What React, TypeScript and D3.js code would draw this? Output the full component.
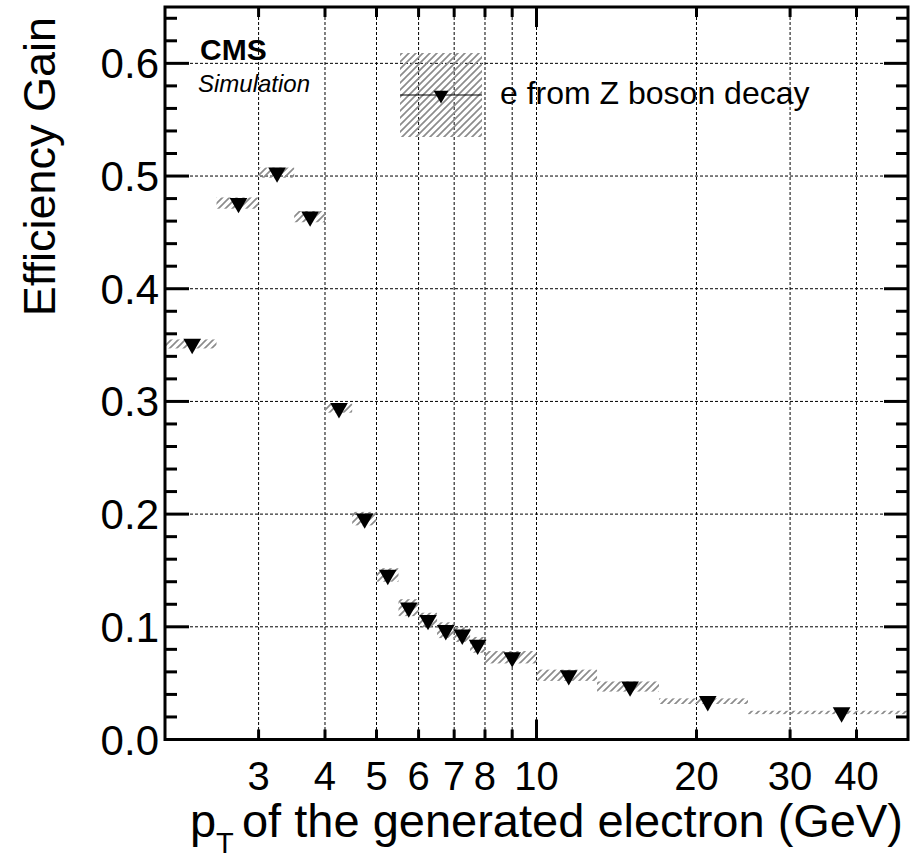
import React from "react";
import * as d3 from "d3";

const binLow = [2, 2.5, 3, 3.5, 4, 4.5, 5, 5.5, 6, 6.5, 7, 7.5, 8, 10, 13, 17, 25];
const binHigh = [2.5, 3, 3.5, 4, 4.5, 5, 5.5, 6, 6.5, 7, 7.5, 8, 10, 13, 17, 25, 50];
const ptCenter = [2.25, 2.75, 3.25, 3.75, 4.25, 4.75, 5.25, 5.75, 6.25, 6.75, 7.25, 7.75, 9, 11.5, 15, 21, 37.5];
const gainValues = [0.351, 0.476, 0.503, 0.464, 0.294, 0.196, 0.146, 0.117, 0.106, 0.097, 0.093, 0.084, 0.073, 0.057, 0.047, 0.034, 0.024];
const gainErrors = [0.004, 0.005, 0.0045, 0.005, 0.004, 0.006, 0.006, 0.0075, 0.0065, 0.007, 0.0065, 0.007, 0.0055, 0.005, 0.0045, 0.0025, 0.0015];

const xTickValues = [3, 4, 5, 6, 7, 8, 9, 10, 20, 30, 40];
const xTickLabels = ["3", "4", "5", "6", "7", "8", "", "10", "20", "30", "40"];
const xMajorTicks = [10];
const yMajorTicks = [0, 0.1, 0.2, 0.3, 0.4, 0.5, 0.6];
const yMinorTicks = d3.range(0, 0.651, 0.02);

const legendLabel = "e from Z boson decay";
const xTitle = "of the generated electron (GeV)";
const yTitle = "Efficiency Gain";

const W = 918;
const H = 860;
const L = 165, R = 908, T = 7, B = 739.5;
const FONT = "'Liberation Sans', Arial, Helvetica, sans-serif";

export default function App() {
  const x = d3.scaleLog().domain([2, 50]).range([L, R]);
  const y = d3.scaleLinear().domain([0, 0.65]).range([B, T]);
  const tri = d3.symbol().type(d3.symbolTriangle).size(135)();
  const triLegend = d3.symbol().type(d3.symbolTriangle).size(95)();

  return (
    <svg width={W} height={H} style={{ position: "absolute", left: 0, top: 0, background: "#fff" }} fontFamily={FONT}>
      <defs>
        <pattern id="hatch" patternUnits="userSpaceOnUse" width="7" height="7">
          <path d="M-1,1 L1,-1 M0,7 L7,0 M6,8 L8,6" stroke="#8c8c8c" strokeWidth="1.7" />
        </pattern>
        <clipPath id="plotclip">
          <rect x={L} y={T} width={R - L} height={B - T} />
        </clipPath>
      </defs>
      <rect x={0} y={0} width={W} height={H} fill="#fff" />

      {/* grid */}
      <g stroke="#000" strokeWidth={1} strokeDasharray="3,2">
        {xTickValues.map((v) => (
          <line key={"gx" + v} x1={x(v)} x2={x(v)} y1={T} y2={B} />
        ))}
        {yMajorTicks.filter((v) => v > 0).map((v) => (
          <line key={"gy" + v} x1={L} x2={R} y1={y(v)} y2={y(v)} />
        ))}
      </g>

      {/* error bands */}
      <g clipPath="url(#plotclip)">
        {gainValues.map((v, i) => (
          <rect
            key={"band" + i}
            x={x(binLow[i])}
            width={x(binHigh[i]) - x(binLow[i])}
            y={y(v + gainErrors[i])}
            height={y(v - gainErrors[i]) - y(v + gainErrors[i])}
            fill="url(#hatch)"
          />
        ))}
      </g>

      {/* markers */}
      {gainValues.map((v, i) => (
        <path key={"m" + i} d={tri} transform={`translate(${x(ptCenter[i])},${y(v)}) rotate(180)`} fill="#000" />
      ))}

      {/* frame */}
      <rect x={L} y={T} width={R - L} height={B - T} fill="none" stroke="#000" strokeWidth={3} />

      {/* ticks */}
      <g stroke="#000" strokeWidth={3}>
        {yMinorTicks.map((v) => {
          const major = yMajorTicks.some((m) => Math.abs(m - v) < 1e-6);
          const len = major ? 24 : 12;
          return (
            <g key={"yt" + v}>
              <line x1={L} x2={L + len} y1={y(v)} y2={y(v)} />
              <line x1={R} x2={R - len} y1={y(v)} y2={y(v)} />
            </g>
          );
        })}
        {xTickValues.map((v) => {
          const len = xMajorTicks.includes(v) ? 20 : 10;
          return (
            <g key={"xt" + v}>
              <line x1={x(v)} x2={x(v)} y1={B} y2={B - len} />
              <line x1={x(v)} x2={x(v)} y1={T} y2={T + len} />
            </g>
          );
        })}
      </g>

      {/* y labels */}
      <g fontSize={42} textAnchor="end" fill="#000">
        {yMajorTicks.map((v) => (
          <text key={"yl" + v} x={159} y={y(v) + 15}>
            {v.toFixed(1)}
          </text>
        ))}
      </g>

      {/* x labels */}
      <g fontSize={40} textAnchor="middle" fill="#000">
        {xTickValues.map((v, i) => (
          <text key={"xl" + v} x={x(v)} y={790}>
            {xTickLabels[i]}
          </text>
        ))}
      </g>

      {/* x title */}
      <text x={190} y={837} fontSize={47} fill="#000">p</text>
      <text x={216} y={853} fontSize={29} fill="#000">T</text>
      <text x={903} y={837} fontSize={47} textAnchor="end" fill="#000">{xTitle}</text>

      {/* y title */}
      <text transform="translate(55,17) rotate(-90)" fontSize={45} textAnchor="end" fill="#000">
        {yTitle}
      </text>

      {/* CMS label */}
      <text x={200} y={60} fontSize={30} fontWeight="bold" fill="#000">CMS</text>
      <text x={198} y={92} fontSize={24} fontStyle="italic" fill="#000">Simulation</text>

      {/* legend */}
      <rect x={400} y={53} width={82} height={84} fill="url(#hatch)" />
      <line x1={400} x2={482} y1={95} y2={95} stroke="#000" strokeWidth={1.2} />
      <path d={triLegend} transform={`translate(441,95) rotate(180)`} fill="#000" />
      <text x={500} y={104} fontSize={32} fill="#000">{legendLabel}</text>
    </svg>
  );
}
